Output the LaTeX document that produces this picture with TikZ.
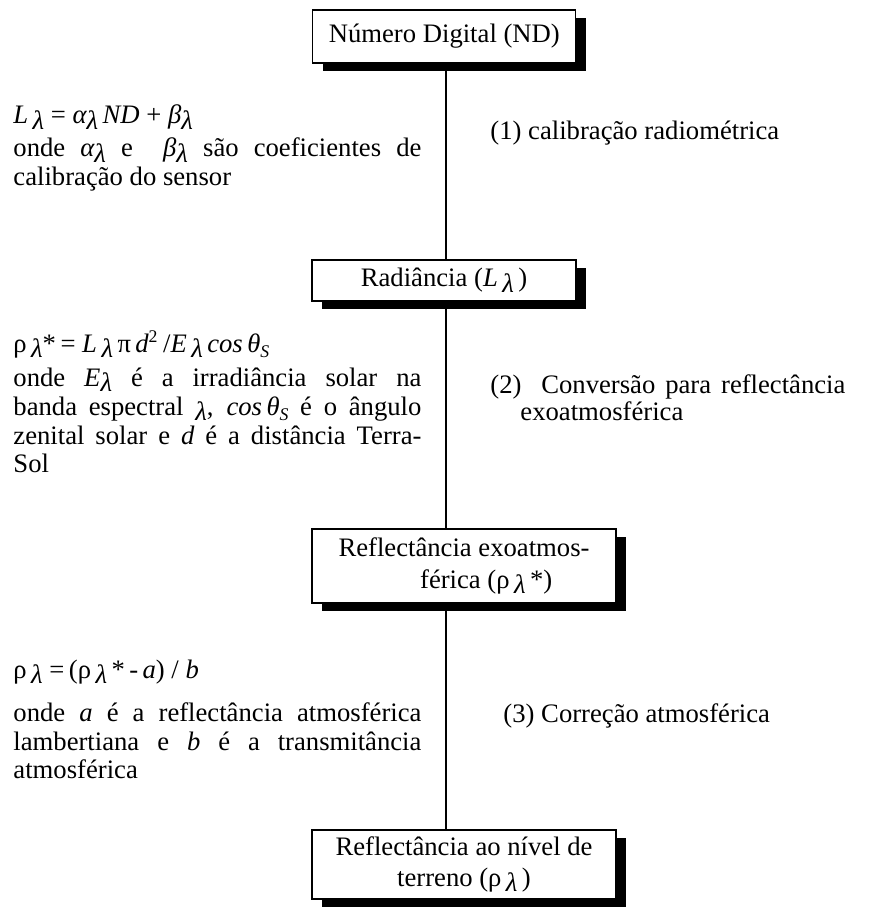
\documentclass[tikz,border=0pt]{standalone}
\usepackage{fontspec}
\setmainfont{Liberation Serif}
\usetikzlibrary{shadows}
\newcommand{\lam}{\raisebox{-0.42ex}{\itshape λ}}
\newcommand{\lsub}[1]{\raisebox{-0.45ex}{\footnotesize\itshape #1}}
\newcommand{\jline}[1]{\makebox[183.6pt][s]{#1}}
\tikzset{
  box/.style={draw, line width=0.6pt, fill=white, inner sep=0pt, align=center,
    general shadow={fill=black, shadow xshift=4.5pt, shadow yshift=-3.6pt}},
  txt/.style={anchor=base west, inner sep=0pt},
  link/.style={line width=0.7pt}
}
\begin{document}
\begin{tikzpicture}[x=0.45pt,y=-0.45pt,font=\fontsize{12pt}{14pt}\selectfont]
\useasboundingbox (0,0) rectangle (873,907);
% boxes
\node[box, minimum width=118.35pt, minimum height=23.85pt] (b1) at (444.3,36.5) {Número Digital (ND)};
\node[box, minimum width=118.8pt, minimum height=18.45pt] (b2) at (444,280.5) {Radiância ({\itshape L}\,\lam\,)};
\node[box, minimum width=136.8pt, minimum height=33.3pt] (b3) at (464,566) {Reflectância exoatmos-\\\hspace*{20pt}férica (ρ\,\lam\,*)};
\node[box, minimum width=136.8pt, minimum height=31.05pt] (b4) at (464,864.5) {Reflectância ao nível de\\terreno (ρ\,\lam\,)};
% connectors
\coordinate (ax) at (446,0);
\draw[link] (b1.south -| ax) -- (b2.north -| ax);
\draw[link] (b2.south -| ax) -- (b3.north -| ax);
\draw[link] (b3.south -| ax) -- (b4.north -| ax);
% block 1
\node[txt] (f1) at (13,124) {{\itshape L}\,\lam\ = {\itshape α}\lam\,{\itshape ND} + {\itshape β}\lam};
\node[txt] (t1a) at (13,157) {\jline{onde {\itshape α}\lam{} e \ {\itshape β}\lam{} são coeficientes de}};
\node[txt] (t1b) at (13,186) {calibração do sensor};
% block 2
\node[txt] (f2) at (13,352) {ρ\,\lam*\,= {\itshape L}\,\lam\,π\,{\itshape d}\textsuperscript{2}\,/{\itshape E}\,\lam\,{\itshape cos\,θ}\lsub{S}};
\node[txt] (t2a) at (13,386) {\jline{onde {\itshape E}\lam{} é a irradiância solar na}};
\node[txt] (t2b) at (13,415) {\jline{banda espectral \lam, {\itshape cos\,θ}\lsub{S} é o ângulo}};
\node[txt] (t2c) at (13,444) {\jline{zenital solar e {\itshape d} é a distância Terra-}};
\node[txt] (t2d) at (13,472) {Sol};
% block 3
\node[txt] (f3) at (13,678) {ρ\,\lam\ =\,(ρ\,\lam\,*\,-\,{\itshape a}) / {\itshape b}};
\node[txt] (t3a) at (13,721) {\jline{onde {\itshape a} é a reflectância atmosférica}};
\node[txt] (t3b) at (13,750) {\jline{lambertiana e {\itshape b} é a transmitância}};
\node[txt] (t3c) at (13,778) {atmosférica};
% right labels
\node[txt] (r1) at (490,140) {(1) calibração radiométrica};
\node[txt] (r2a) at (490,393) {\makebox[159.75pt][s]{(2)\ \ Conversão para reflectância}};
\node[txt] (r2b) at (520,420) {exoatmosférica};
\node[txt] (r3) at (503,722) {(3) Correção atmosférica};
\end{tikzpicture}
\end{document}
